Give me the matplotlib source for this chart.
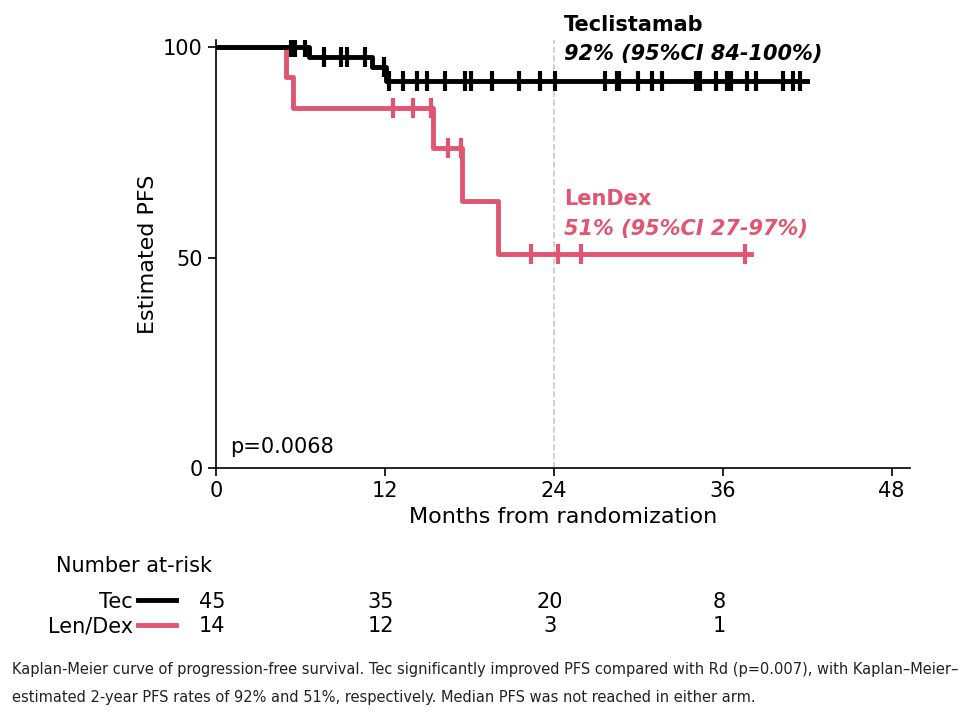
import matplotlib.pyplot as plt

# Teclistamab arm
tec_times = [0, 6.6, 11.1, 12.1, 42.0]
tec_surv = [100, 97.7, 95.3, 92.0, 92.0]
tec_cens_t = [5.3, 5.6, 6.3, 7.7, 8.9, 9.3, 10.6, 11.9, 12.3, 13.3, 14.25, 15.0, 16.3,
              17.7, 18.1, 19.6, 21.5, 23.0, 24.1, 27.6, 28.5, 28.6, 30.0, 31.0, 31.7,
              34.1, 34.4, 35.5, 36.3, 36.6, 37.7, 38.4, 40.3, 41.0, 41.5]

# LenDex arm
len_times = [0, 5.0, 5.5, 15.4, 17.5, 20.0, 38.0]
len_surv = [100, 92.9, 85.7, 76.2, 63.5, 50.8, 50.8]
len_cens_t = [12.6, 14.0, 15.3, 16.5, 17.4, 22.4, 24.3, 25.9, 37.6]

risk_times = [0, 12, 24, 36]
tec_risk = [45, 35, 20, 8]
len_risk = [14, 12, 3, 1]

RED = "#e05570"


def surv_at(times, surv, t):
    val = surv[0]
    for ti, si in zip(times, surv):
        if ti <= t:
            val = si
    return val


fig = plt.figure(figsize=(9.69, 7.19), dpi=100)
ax = fig.add_axes([0.223, 0.349, 0.716, 0.595])

ax.step(tec_times, tec_surv, where="post", color="black", lw=3.5, zorder=3)
ax.step(len_times, len_surv, where="post", color=RED, lw=3.5, zorder=2)
ax.plot(tec_cens_t, [surv_at(tec_times, tec_surv, t) for t in tec_cens_t], "|",
        color="black", ms=14, mew=3, zorder=3)
ax.plot(len_cens_t, [surv_at(len_times, len_surv, t) for t in len_cens_t], "|",
        color=RED, ms=14, mew=3, zorder=2)
ax.axvline(24, color="#c8c8c8", ls="--", lw=1.2, zorder=1)

ax.set_xlim(0, 49.3)
ax.set_ylim(0, 101.7)
ax.set_xticks([0, 12, 24, 36, 48])
ax.set_yticks([0, 50, 100])
ax.tick_params(labelsize=15, length=6, width=1.2)
for s in ["top", "right"]:
    ax.spines[s].set_visible(False)
for s in ["left", "bottom"]:
    ax.spines[s].set_linewidth(1.2)
ax.set_xlabel("Months from randomization", fontsize=16)
ax.set_ylabel("Estimated PFS", fontsize=16)

ax.text(24.7, 104, "Teclistamab", fontsize=15, fontweight="bold")
ax.text(24.7, 97, "92% (95%CI 84-100%)", fontsize=15, fontweight="bold", style="italic")
ax.text(24.7, 62.5, "LenDex", fontsize=15, fontweight="bold", color=RED)
ax.text(24.7, 55.5, "51% (95%CI 27-97%)", fontsize=15, fontweight="bold",
        style="italic", color=RED)
ax.text(1.0, 3.5, "p=0.0068", fontsize=15)

# number at risk
fig.text(0.058, 0.205, "Number at-risk", fontsize=15)
fig.text(0.137, 0.163, "Tec", fontsize=15, ha="right", va="center")
fig.text(0.137, 0.129, "Len/Dex", fontsize=15, ha="right", va="center")
fig.add_artist(plt.Line2D([0.142, 0.182], [0.165, 0.165], color="black", lw=3.5))
fig.add_artist(plt.Line2D([0.142, 0.182], [0.131, 0.131], color=RED, lw=3.5))
for t, a, b in zip(risk_times, tec_risk, len_risk):
    xf = ax.transData.transform((t, 0))[0] / fig.bbox.width
    fig.text(xf - 0.004, 0.163, str(a), fontsize=15, ha="center", va="center")
    fig.text(xf - 0.004, 0.129, str(b), fontsize=15, ha="center", va="center")

fig.text(0.012, 0.062, "Kaplan-Meier curve of progression-free survival. Tec significantly "
         "improved PFS compared with Rd (p=0.007), with Kaplan\u2013Meier\u2013",
         fontsize=10.5, color="#222222")
fig.text(0.012, 0.024, "estimated 2-year PFS rates of 92% and 51%, respectively. "
         "Median PFS was not reached in either arm.", fontsize=10.5, color="#222222")

fig.savefig("out.png", dpi=100)
